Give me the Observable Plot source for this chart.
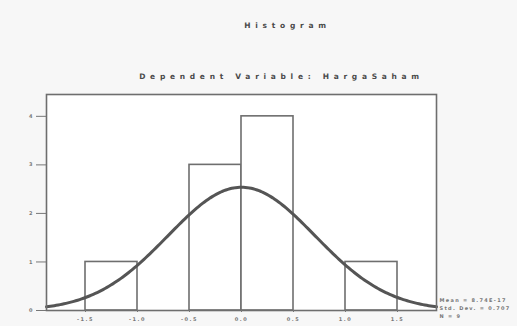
<!DOCTYPE html>
<html>
<head>
<meta charset="utf-8">
<script src="https://cdn.jsdelivr.net/npm/d3@7"></script>
<script src="https://cdn.jsdelivr.net/npm/@observablehq/plot@0.6"></script>
<style>
  html, body { margin: 0; padding: 0; background: #f7f7f7; }
  #chart svg { display: block; background: #f7f7f7; }
</style>
</head>
<body>
<div id="chart"></div>
<script>
// Histogram data (regression standardized residual)
const binStarts = [-1.5, -1.0, -0.5, 0.0, 0.5, 1.0];
const binWidth = 0.5;
const counts = [1, 0, 3, 4, 0, 1];
const xTicks = [-1.5, -1.0, -0.5, 0.0, 0.5, 1.0, 1.5];
const xTickLabels = ["-1.5", "-1.0", "-0.5", "0.0", "0.5", "1.0", "1.5"];
const yTicks = [0, 1, 2, 3, 4];
const titleText = "Histogram";
const subtitleText = "Dependent Variable: HargaSaham";
const statLabels = ["Mean = 8.74E-17", "Std. Dev. = 0.707", "N = 9"];
const statMean = 0;
const statSd = 0.707;
const statN = 9;

const bars = binStarts.map((s, i) => ({x1: s, x2: s + binWidth, y: counts[i]})).filter(d => d.y > 0);

// fitted normal curve (from mean, sd, N, bin width)
const xDomain = [-1.875, 1.875];
const curve = d3.range(0, 201).map(i => {
  const x = xDomain[0] + (xDomain[1] - xDomain[0]) * i / 200;
  const z = (x - statMean) / statSd;
  return {x, y: statN * binWidth * Math.exp(-z * z / 2) / (statSd * Math.sqrt(2 * Math.PI))};
});

const chart = Plot.plot({
  width: 517,
  height: 326,
  marginLeft: 46,
  marginRight: 81,
  marginTop: 94,
  marginBottom: 16,
  style: {background: "#f7f7f7", fontFamily: "DejaVu Sans"},
  x: {domain: xDomain},
  y: {domain: [0, 4.45]},
  marks: [
    Plot.frame({fill: "white", stroke: "none"}),
    Plot.rectY(bars, {x1: "x1", x2: "x2", y: "y", fill: "white", stroke: "#6e6e6e", strokeWidth: 1.6}),
    Plot.line(curve, {x: "x", y: "y", stroke: "#555", strokeWidth: 3}),
    Plot.frame({stroke: "#6e6e6e", strokeWidth: 1.6}),
    Plot.axisY({ticks: yTicks, tickFormat: d => String(d), tickSize: 10, tickPadding: 4, fontSize: 5, fontWeight: "bold", color: "#777", label: null}),
    Plot.axisX({ticks: xTicks, tickFormat: (d) => xTickLabels[xTicks.indexOf(d)], tickSize: 2, tickPadding: 5, fontSize: 5, fontWeight: "bold", color: "#777", label: null}),
    // titles
    Plot.text([titleText], {text: d => d, frameAnchor: "top", dx: 46, dy: -72, fontSize: 7.5, fontWeight: "bold", fill: "#4a4a4a"}),
    Plot.text([subtitleText], {text: d => d, frameAnchor: "top", dx: 40, dy: -21, fontSize: 7.5, fontWeight: "bold", fill: "#4a4a4a"}),
    // stats legend
    Plot.text(statLabels, {text: d => d, frameAnchor: "bottom-right", dx: 3, textAnchor: "start", fontSize: 5, fill: "#777", fontWeight: "bold"})
  ]
});
document.getElementById("chart").appendChild(chart);

// letter spacing like SPSS output (applied after Plot renders)
chart.querySelectorAll("text").forEach(t => {
  const s = t.textContent;
  if (s === titleText || s === subtitleText) {
    t.setAttribute("letter-spacing", "4.7");
  } else if (xTickLabels.includes(s)) {
    t.setAttribute("letter-spacing", "1.5");
  } else if (statLabels.includes(s)) {
    const i = statLabels.indexOf(s);
    t.setAttribute("letter-spacing", "1.3");
    t.setAttribute("dy", String(-9 + i * 8));
  }
});
</script>
</body>
</html>
